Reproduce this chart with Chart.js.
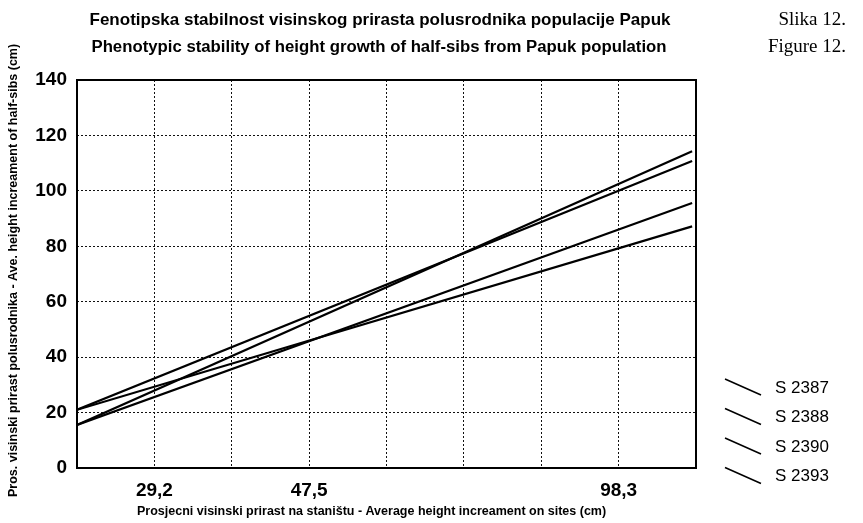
<!DOCTYPE html>
<html lang="hr">
<head>
<meta charset="UTF-8">
<title>Fenotipska stabilnost visinskog prirasta</title>
<style>
    body { margin: 0; background: #fff; }
    #wrap { width: 863px; height: 523px; }
</style>
</head>
<body>
<div id="wrap"><canvas id="chart" width="863" height="523"></canvas></div>
<script src="https://cdn.jsdelivr.net/npm/chart.js"></script>
<script>
// x axis: tick positions and their labels (site means)
const xTickPos = [1, 3, 7];
const xTickLabels = ['29,2', '47,5', '98,3'];
const xLine = [0, 7.95];

// regression lines, value at start and end of x range
const seriesNames = ['S 2387', 'S 2388', 'S 2390', 'S 2393'];
const s2387 = [15.5, 114.3];
const s2388 = [21.0, 110.8];
const s2390 = [15.5, 95.6];
const s2393 = [21.0, 87.2];
const seriesValues = [s2387, s2388, s2390, s2393];

const titleLines = [
    'Fenotipska stabilnost visinskog prirasta polusrodnika populacije Papuk',
    'Phenotypic stability of height growth of half-sibs from Papuk population'
];
const figLabels = ['Slika 12.', 'Figure 12.'];
const xTitle = 'Prosjecni visinski prirast na staništu - Average height increament on sites (cm)';
const yTitle = 'Pros. visinski prirast polusrodnika - Ave. height increament of half-sibs (cm)';

const SANS = '"Liberation Sans", Arial, sans-serif';
const NARROW = '"Liberation Sans Narrow", "Arial Narrow", "Liberation Sans", sans-serif';
const SERIF = '"Liberation Serif", "Times New Roman", serif';

// fit text into a width by picking the font size
function fitFont(ctx, text, weight, family, width, start) {
    let size = start || 20;
    while (size > 6) {
        ctx.font = weight + ' ' + size + 'px ' + family;
        if (ctx.measureText(text).width <= width) break;
        size -= 0.25;
    }
    return ctx.font;
}

const extras = {
    id: 'extras',
    afterDatasetsDraw(chart) {
        const ctx = chart.ctx;
        const a = chart.chartArea;
        ctx.save();
        // frame
        ctx.strokeStyle = '#000';
        ctx.lineWidth = 2;
        ctx.setLineDash([]);
        ctx.strokeRect(a.left, a.top, a.right - a.left, a.bottom - a.top);
        ctx.restore();
    },
    afterDraw(chart) {
        const ctx = chart.ctx;
        ctx.save();
        ctx.fillStyle = '#000';
        ctx.textBaseline = 'middle';

        // titles
        ctx.textAlign = 'center';
        ctx.font = fitFont(ctx, titleLines[0], 'bold', NARROW, 584, 19);
        ctx.fillText(titleLines[0], 380, 20);
        ctx.font = fitFont(ctx, titleLines[1], 'bold', NARROW, 582, 19);
        ctx.fillText(titleLines[1], 379, 47);

        ctx.font = '19px ' + SERIF;
        ctx.textAlign = 'right';
        ctx.fillText(figLabels[0], 846, 20);
        ctx.fillText(figLabels[1], 846, 47);

        // axis titles
        ctx.textAlign = 'left';
        ctx.font = fitFont(ctx, xTitle, 'bold', SANS, 476);
        ctx.fillText(xTitle, 137, 512);

        ctx.save();
        ctx.translate(14, 497);
        ctx.rotate(-Math.PI / 2);
        ctx.font = fitFont(ctx, xTitle, 'bold', SANS, 476);
        ctx.fillText(yTitle, 0, 0);
        ctx.restore();

        // legend with slanted line samples
        ctx.font = '17px ' + SANS;
        ctx.strokeStyle = '#000';
        ctx.lineWidth = 1.6;
        chart.data.datasets.forEach((ds, i) => {
            const y = 388 + i * 29.5;
            ctx.beginPath();
            ctx.moveTo(725, y - 9);
            ctx.lineTo(761, y + 7);
            ctx.stroke();
            ctx.fillText(ds.label, 775, y);
        });
        ctx.restore();
    }
};

const datasets = seriesNames.map((name, i) => ({
    label: name,
    data: xLine.map((x, j) => ({ x: x, y: seriesValues[i][j] })),
    borderColor: '#000',
    borderWidth: 2.2,
    pointRadius: 0,
    showLine: true,
    fill: false
}));

new Chart(document.getElementById('chart'), {
    type: 'scatter',
    data: { datasets: datasets },
    options: {
        responsive: false,
        animation: false,
        layout: { padding: { top: 80, right: 167, bottom: 0, left: 0 } },
        plugins: {
            legend: { display: false },
            title: { display: false },
            tooltip: { enabled: false }
        },
        scales: {
            x: {
                type: 'linear',
                min: 0,
                max: 8,
                afterFit(scale) { scale.height = 55; },
                ticks: {
                    stepSize: 1,
                    autoSkip: false,
                    maxRotation: 0,
                    padding: 11,
                    color: '#000',
                    font: { family: SANS, size: 19, weight: 'bold' },
                    callback(v) {
                        const k = xTickPos.indexOf(v);
                        return k >= 0 ? xTickLabels[k] : '';
                    }
                },
                grid: { color: '#111', lineWidth: 1, drawTicks: false },
                border: { display: false, dash: [2, 2] }
            },
            y: {
                min: 0,
                max: 140,
                afterFit(scale) { scale.width = 77; },
                ticks: {
                    stepSize: 20,
                    padding: 10,
                    color: '#000',
                    font: { family: SANS, size: 19, weight: 'bold' }
                },
                grid: { color: '#111', lineWidth: 1, drawTicks: false },
                border: { display: false, dash: [2, 2] }
            }
        }
    },
    plugins: [extras]
});
</script>
</body>
</html>
